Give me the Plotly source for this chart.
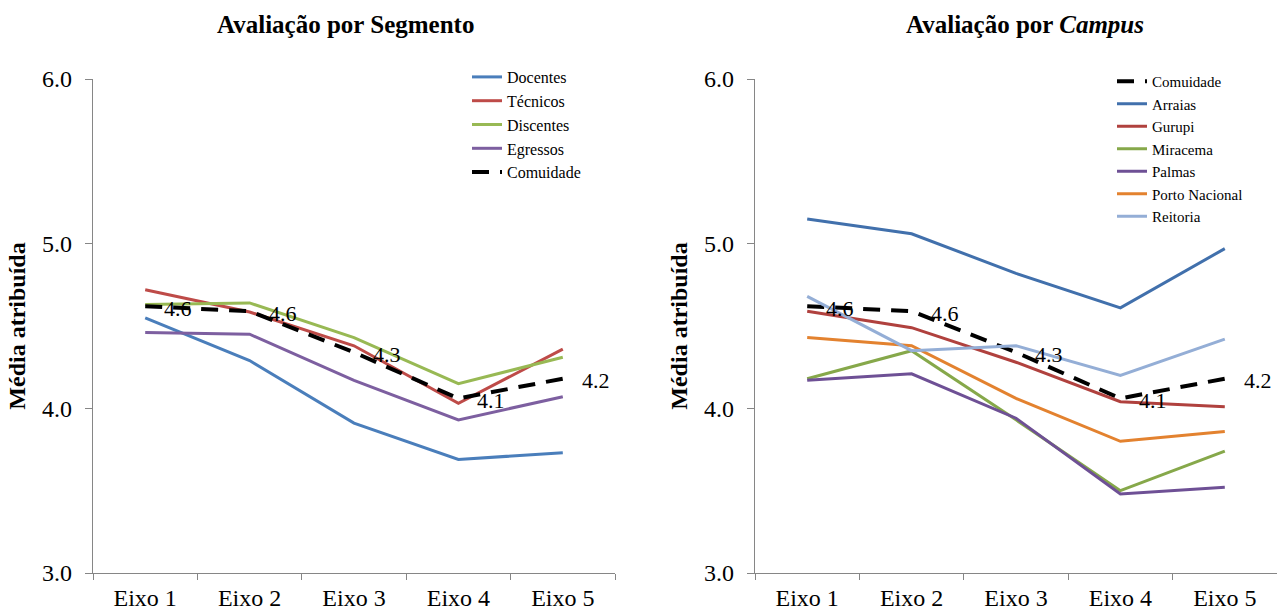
import plotly.graph_objects as go

eixos = ["Eixo 1", "Eixo 2", "Eixo 3", "Eixo 4", "Eixo 5"]

# Left panel: by segment
docentes = [4.55, 4.29, 3.91, 3.69, 3.73]
tecnicos = [4.72, 4.585, 4.38, 4.03, 4.36]
discentes = [4.63, 4.64, 4.43, 4.15, 4.31]
egressos = [4.46, 4.45, 4.17, 3.93, 4.07]
comunidade = [4.62, 4.59, 4.34, 4.06, 4.18]

# Right panel: by campus
arraias = [5.15, 5.06, 4.82, 4.61, 4.97]
gurupi = [4.59, 4.49, 4.28, 4.04, 4.01]
miracema = [4.18, 4.35, 3.93, 3.50, 3.74]
palmas = [4.17, 4.21, 3.94, 3.48, 3.52]
porto_nacional = [4.43, 4.38, 4.06, 3.80, 3.86]
reitoria = [4.68, 4.35, 4.38, 4.20, 4.42]

FONT = "Liberation Serif"
AX = "#868686"
DASH = "17px,11px"

fig = go.Figure()

left_series = [
    ("Docentes", docentes, "#4A7EBB"),
    ("Técnicos", tecnicos, "#BE4B48"),
    ("Discentes", discentes, "#98B954"),
    ("Egressos", egressos, "#7D5FA0"),
]
for name, vals, col in left_series:
    fig.add_trace(go.Scatter(x=eixos, y=vals, name=name, mode="lines",
                             line=dict(color=col, width=3),
                             xaxis="x", yaxis="y", legend="legend"))
fig.add_trace(go.Scatter(x=eixos, y=comunidade, name="Comuidade", mode="lines",
                         line=dict(color="black", width=4, dash=DASH),
                         xaxis="x", yaxis="y", legend="legend"))

fig.add_trace(go.Scatter(x=eixos, y=comunidade, name="Comuidade", mode="lines",
                         line=dict(color="black", width=4, dash=DASH),
                         xaxis="x2", yaxis="y2", legend="legend2"))
right_series = [
    ("Arraias", arraias, "#4170AC"),
    ("Gurupi", gurupi, "#B0413E"),
    ("Miracema", miracema, "#86A84A"),
    ("Palmas", palmas, "#6E5095"),
    ("Porto Nacional", porto_nacional, "#E3822F"),
    ("Reitoria", reitoria, "#94AED6"),
]
for name, vals, col in right_series:
    fig.add_trace(go.Scatter(x=eixos, y=vals, name=name, mode="lines",
                             line=dict(color=col, width=3),
                             xaxis="x2", yaxis="y2", legend="legend2"))

annotations = []
for xr, yr in (("x", "y"), ("x2", "y2")):
    for cat, v in zip(eixos, comunidade):
        annotations.append(dict(x=cat, y=v, xref=xr, yref=yr, text=f"{v:.1f}",
                                showarrow=False, xanchor="left", yanchor="middle",
                                xshift=17, yshift=-2,
                                font=dict(family=FONT, size=22, color="black")))
annotations.append(dict(x=345 / 1277, y=1 - 25 / 611, xref="paper", yref="paper",
                        text="<b>Avaliação por Segmento</b>", showarrow=False,
                        xanchor="center", yanchor="middle",
                        font=dict(family=FONT, size=25, color="black")))
annotations.append(dict(x=1025 / 1277, y=1 - 25 / 611, xref="paper", yref="paper",
                        text="<b>Avaliação por <i>Campus</i></b>", showarrow=False,
                        xanchor="center", yanchor="middle",
                        font=dict(family=FONT, size=25, color="black")))

ydom = [1 - 573 / 611, 1 - 79 / 611]
xaxis_common = dict(showline=True, linecolor=AX, linewidth=1.3, ticks="outside",
                    tickson="boundaries", ticklen=6, tickcolor=AX, showgrid=False,
                    ticklabelstandoff=3,
                    tickfont=dict(family=FONT, size=24, color="black"),
                    range=[-0.5, 4.5], fixedrange=True, automargin=False)
yaxis_common = dict(showline=True, linecolor=AX, linewidth=1.3, ticks="outside",
                    ticklen=7, tickcolor=AX, showgrid=False, range=[3, 6], dtick=1,
                    tickformat=".1f", zeroline=False, domain=ydom, automargin=False,
                    ticklabelstandoff=8,
                    tickfont=dict(family=FONT, size=24, color="black"),
                    title=dict(text="<b>Média atribuída</b>", standoff=9,
                               font=dict(family=FONT, size=24, color="black")))

legend_common = dict(bgcolor="rgba(0,0,0,0)", xanchor="left", yanchor="top",
                     tracegroupgap=0, itemwidth=30)

fig.update_layout(
    width=1277, height=611,
    margin=dict(l=0, r=0, t=0, b=0, autoexpand=False),
    paper_bgcolor="white", plot_bgcolor="white",
    xaxis=dict(domain=[93 / 1277, 615 / 1277], anchor="y", **xaxis_common),
    yaxis=dict(anchor="x", **yaxis_common),
    xaxis2=dict(domain=[755 / 1277, 1.0], anchor="y2", **xaxis_common),
    yaxis2=dict(anchor="x2", **yaxis_common),
    legend=dict(x=467 / 1277, y=1 - 60 / 611,
                font=dict(family=FONT, size=16, color="black"), **legend_common),
    legend2=dict(x=1112 / 1277, y=1 - 65 / 611,
                 font=dict(family=FONT, size=15, color="black"), **legend_common),
    annotations=annotations,
    showlegend=True,
)

fig.write_html("out.html")
